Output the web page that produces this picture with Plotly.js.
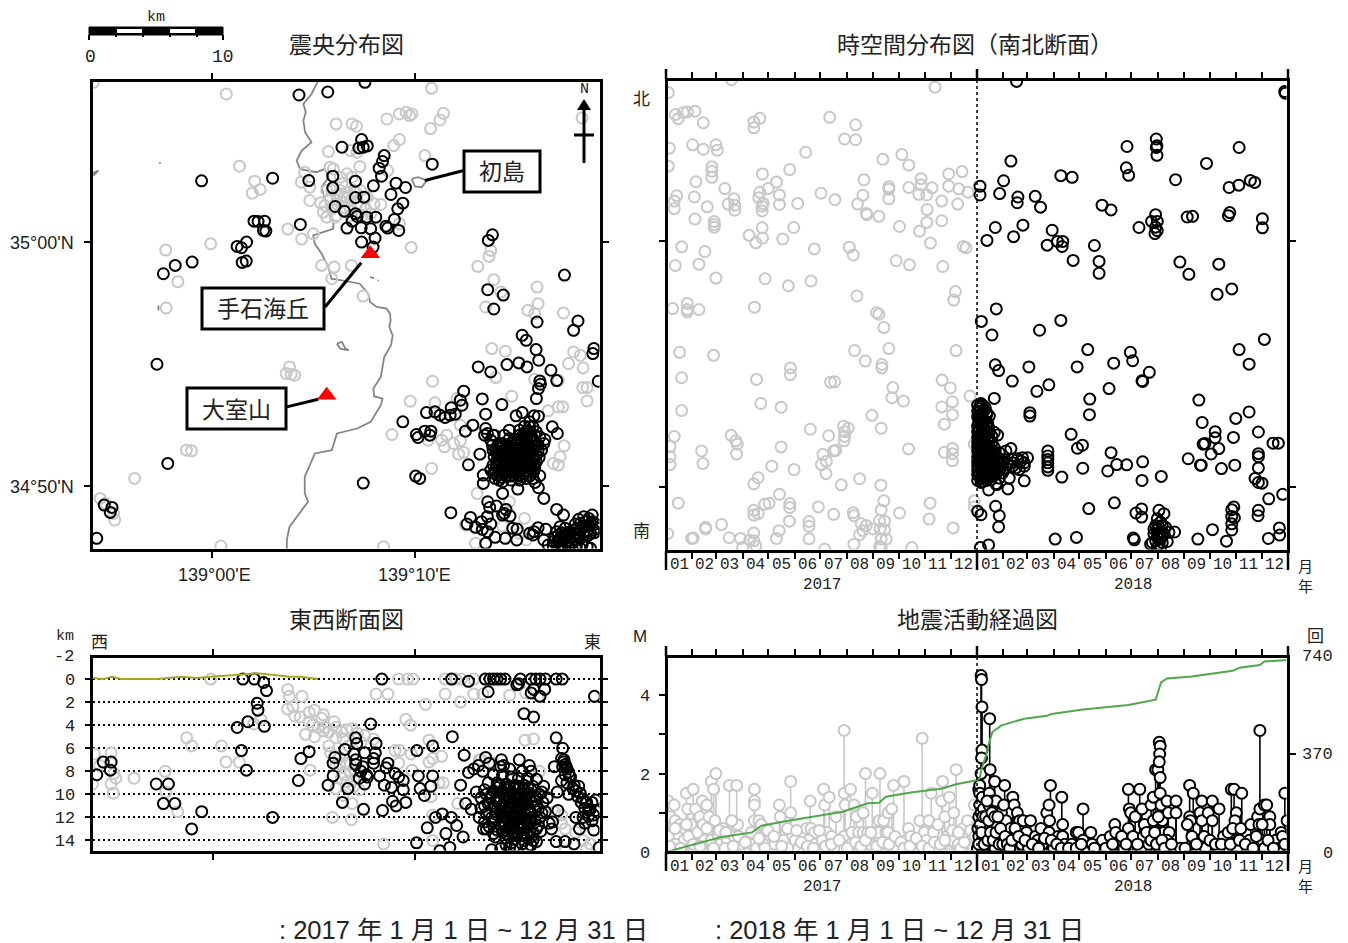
<!DOCTYPE html>
<html><head><meta charset="utf-8">
<script src="https://cdn.plot.ly/plotly-3.0.1.min.js"></script>
<style>html,body{margin:0;padding:0;background:#fff}</style></head><body>
<div id="c" style="width:1348px;height:943px"></div>
<script>
// Map readings (east grid, south grid): 139°00'E=392, 139°10'E=990, 35°00'N=725, 34°50'N=1458
const mapOld=[433,280,1040,263,758,370,805,370,818,377,908,355,945,340,965,335,982,340,975,345,1075,338,1065,358,1037,384,945,417,928,435,1020,465,735,453,820,455,800,450,472,497,517,542,533,567,510,578,655,545,680,560,665,515,740,500,750,505,828,498,910,510,805,530,775,550,770,570,790,575,780,590,760,585,800,600,680,600,712,607,725,615,720,635,745,625,760,645,800,625,830,620,870,610,890,612,860,640,755,650,945,670,615,686,690,700,656,716,387,730,254,749,980,741,715,795,752,800,803,795,745,835,290,844,838,887,255,923,1215,750,1210,768,1177,798,1224,838,1352,860,1245,875,1200,920,1355,910,1325,930,1345,940,1430,938,1485,352,1218,1045,1258,1053,1460,1055,1480,1065,1445,1090,1488,1103,1230,1132,1345,1137,1415,1140,1487,1162,1500,1162,1500,1202,1277,1188,1385,1232,1415,1220,1428,1220,1050,1208,977,1203,1043,1143,1115,1195,1125,1275,1085,1305,1070,1320,1078,1340,1105,1330,1125,1322,1135,1357,1120,1362,923,1303,1030,1320,1040,1405,1400,1390,1415,1395,1420,1370,1432,1337,1365,1352,1175,1480,1270,1505,1315,1555,1250,1578,1170,1630,898,1640,417,1638,620,1100,610,1120,635,1125,625,1122,315,1350,330,1352,162,1435,60,1495,100,1540,103,1560,75,1510,1320,1620,1300,1600,1140,1575,40,245,745,570,760,600,775,605,790,590,810,570,820,610,845,625,835,645,800,645,780,620,760,610,740,595,730,570,770,530,790,520,815,575,830,570,850,590,730,650];
const mapNew=[648,283,733,274,843,245,833,417,775,440,825,442,850,436,838,440,900,465,895,483,885,503,892,527,1042,491,360,541,570,533,677,540,748,527,748,562,815,542,868,556,935,548,963,561,920,582,815,591,840,590,955,608,940,625,755,618,782,632,815,640,820,648,805,662,848,650,875,650,930,657,790,683,832,682,860,685,905,677,910,683,943,690,873,713,833,725,867,740,515,662,527,663,546,662,550,692,543,690,652,672,1220,703,1208,720,493,725,465,738,478,742,492,782,480,786,332,785,282,795,247,820,1433,824,1206,868,1252,884,1224,926,1352,965,1473,962,1460,990,1308,1005,1320,1020,1349,1048,1520,1045,1517,1060,228,1092,1357,1080,1178,1100,1215,1115,1263,1093,1298,1088,1322,1100,1393,1110,1410,1141,1360,1142,1362,1152,1356,1165,1533,1143,1350,1195,1135,1173,1125,1200,1130,1215,1190,1196,1248,1213,1025,1237,1050,1235,1065,1245,1080,1252,1098,1223,1095,1245,1110,1242,1200,1242,1290,1247,1308,1237,1343,1247,1356,1248,955,1265,1162,1275,1140,1293,995,1303,1000,1312,1020,1293,1038,1293,1035,1305,1200,1285,1197,1305,1222,1305,1270,1290,1397,1280,1412,1300,1375,1318,1183,1362,1149,1394,260,1390,838,1449,993,1428,1005,1435,1193,1425,1193,1450,1360,1427,1346,1447,1356,1463,1295,1467,1250,1480,1372,1495,1206,1505,1232,1518,1212,1522,1260,1528,1255,1540,1250,1545,1272,1548,1097,1538,1410,1528,1430,1545,1155,1552,1145,1572,1170,1582,1188,1565,1205,1550,1215,1572,1190,1588,1205,1595,1280,1585,1293,1587,1228,1612,1258,1615,1292,1620,1200,1630,1343,1595,1340,1605,1355,1583,1378,1588,1372,1620,1330,1600,72,1515,95,1522,90,1537,50,1615,
1330,1265,1315,1278,1340,1280,1300,1290,1325,1292,1350,1295,1310,1305,1335,1308,1360,1310,1295,1318,1320,1320,1345,1322,1275,1330,1305,1332,1330,1335,1355,1335,1220,1335,1245,1340,1265,1345,1290,1345,1315,1348,1340,1350,1230,1350,1255,1355,1280,1358,1305,1360,1330,1362,1350,1365,1240,1368,1265,1370,1290,1372,1315,1375,1340,1378,1232,1382,1250,1385,1275,1385,1300,1388,1325,1390,1345,1392,1240,1398,1262,1400,1285,1402,1310,1404,1335,1406,1228,1410,1250,1412,1272,1414,1295,1416,1320,1418,1342,1415,1235,1425,1260,1428,1285,1428,1310,1430,1330,1428,1240,1440,1275,1440,1320,1435,1225,1420,1215,1320,1205,1300,1225,1305,1255,1305,1245,1375,1258,1392,1280,1375,1295,1395,1270,1360,1300,1375,1320,1362,1320,1400,1300,1345,1285,1420,1255,1420,1245,1405,1335,1345,1320,1333,1270,1385,1285,1388,1310,1390,1265,1405,1278,1395,1290,1380,1305,1410,1278,1350,1252,1368,1340,1365,1328,1375,1240,1355,1262,1358,1315,1385,1300,1400,1265,1415,
1240,1345,1255,1347,1235,1360,1248,1362,1262,1378,1275,1372,1290,1360,1298,1352,1310,1340,1325,1328,1338,1318,1318,1310,1305,1318,1328,1300,1345,1338,1355,1350,1358,1372,1350,1385,1335,1395,1345,1405,1330,1415,1310,1420,1298,1428,1272,1428,1248,1432,1232,1395,1240,1385,1255,1400,1270,1392,1280,1410,1295,1405,1312,1365,1325,1352,1305,1378,1295,1365,1285,1345,1265,1335,1250,1330,1235,1338,1222,1350,1225,1370,1222,1395,1215,1410,1228,1435,1250,1445,1300,1440,1340,1435,1365,1350,1372,1330,1290,1330,1300,1305,1318,1295,1330,1280,1345,1305,1270,1315,1285,1320,
1420,1580,1435,1585,1410,1595,1425,1598,1440,1600,1450,1595,1405,1612,1420,1615,1435,1615,1450,1612,1465,1600,1410,1628,1425,1632,1440,1630,1400,1640,1455,1628,1470,1620,1485,1635,1500,1640,1515,1545,1490,1550,1505,1555,1475,1558,1495,1565,1515,1565,1465,1572,1485,1578,1505,1578,1525,1572,1480,1592,1500,1592,1522,1598,1470,1600,1490,1605,1510,1600,1415,1605,1430,1608,1445,1605,1415,1622,1430,1622,1445,1622,1460,1612,1425,1640,1445,1640,1470,1585,1480,1570,1495,1580,1510,1570,1490,1595,1505,1605,1475,1610,1460,1590,1400,1625,1385,1635,1520,1590,1530,1585,1465,1640,1480,1645,1510,1645];
const coast=[[705,240,685,280,661,310,668,335,661,360,666,395,685,425,656,450,641,480,651,505,675,510,700,515,725,505,735,530,715,560,725,600,740,640,750,670,749,685,720,695,690,705,695,730,715,760,735,800,744,835,774,840,828,850,853,880,858,905,878,920,907,925,917,940,919,960,915,980,925,1005,920,1035,900,1070,890,1130,868,1165,870,1188,895,1195,890,1215,860,1265,820,1285,760,1300,745,1350,695,1360,680,1395,665,1430,665,1480,675,1505,660,1525,620,1580,612,1620,612,1650],[33,520,55,510,40,525],[760,1030,775,1025,785,1045,795,1050,770,1045,760,1030],[981,535,1001,530,1025,540,1011,560,991,558,981,535],[858,830,870,833],[880,840,884,841],[236,485,238,490],[232,915,233,930]];
const triangleGrid=[859,760,730,1185];
const topoX=[116,150,175,200,260,300,370,410,450,500,580,640,670,700,750];
const topoY=[-0.1,0,-0.2,0,0,0,-0.2,-0.1,-0.2,-0.3,-0.5,-0.3,-0.2,-0.2,0];
// Depth section (east grid, depth km)
const depthOld=[450,0,665,0.9,670,1.5,705,1.5,665,2.6,680,2.4,685,3.2,700,3.3,725,2.9,740,2.7,765,3.1,760,3.4,725,3.7,735,4,715,4.8,740,5,765,4.5,770,4.2,795,3.7,800,4.2,830,4.4,800,5.1,860,4.7,880,4.9,905,5.2,780,5.8,785,6.4,810,6.8,830,7.3,840,8,825,8.3,855,8,800,7.5,850,8.7,865,9.6,800,9.5,820,10.1,845,10.8,790,12,843,12.2,383,5.1,397,5.8,480,5.8,493,7.2,530,7.2,570,3.9,590,3.5,236,8.6,323,8,325,9.8,358,11.5,125,6.5,172,6.4,140,7.5,120,9.1,172,9.1,178,9.9,185,8.6,180,8.2,728,7.9,912,1.3,945,1.3,1050,2.2,995,3.5,1008,4,965,6.2,978,6.2,975,7.3,1010,6.5,1012,7.9,1060,5.3,1095,6.7,1060,7.2,1070,6.9,1100,9,1088,9,1065,10.2,1140,10.8,1070,11.8,933,14.3,1070,14,975,0,1000,0,1015,0,1105,0,1135,0,1150,0,1185,0,1105,1.3,1148,2,1185,1.3,1210,1.3,1285,1.4,1330,1.2,1365,1.5,1328,5.3,1352,5.2,1205,7,1240,7.3,1200,7,1368,8,1430,12.5,1440,13,1470,13.3,1490,14,1510,14.3,1500,14.7,1440,14.9,1430,11.8,1410,11.5,750,4.2,780,4.6,815,4.6,845,4.3,870,5.5,820,5.2,835,5.8,810,7.3,840,7.4,815,8.6,830,8.9,850,9.3];
const depthNew=[540,0,572,0,598,0.3,606,1,580,2.1,582,2.7,554,3.7,524,4.2,600,4.1,536,6.2,550,7.9,702,6.9,725,6.3,695,8.8,132,8.3,150,7.2,172,7.2,170,7.9,298,9.1,332,9.1,318,10.8,350,10.8,425,11.5,397,13,623,12,928,0,1123,0,1170,0.2,1217,0,1230,0,1240,0,1250,0,1260,0,1272,0,1225,1.1,1310,0.4,1305,0.5,1315,0,1345,0,1358,0,1370,0,1385,0,1415,0,1432,0,1345,1.2,1352,0.9,1370,1.5,1383,0.9,1522,1.5,1325,3,1352,3.3,1125,5,1415,5.1,1433,6,1070,5.8,1026,6.2,897,3.9,855,5.1,858,5.6,912,5.6,825,6.1,797,6.8,792,7.3,850,6.5,855,7,855,7.4,880,6.4,910,6.4,905,6.9,905,7.3,945,7.3,940,7.7,875,7.6,870,8,885,8.3,865,8.6,888,8.5,880,9.1,792,8.4,778,9.2,833,9.5,818,10.7,877,11.3,922,8.4,935,9.2,955,9.4,965,8.2,975,8.5,988,8.8,988,9.6,958,10.6,968,11,995,10.7,930,11.4,1030,8.4,1035,9.5,1047,10.1,1065,9.3,1070,8.4,1097,11.7,1078,12,1122,12,1137,12.7,1055,12.9,1107,13.4,1155,13.7,1025,14.2,1118,14.6,1090,14.9,1158,6.6,1148,9.2,1170,8.1,1185,7.8,1192,9.8,1162,10.8,1178,11.3,1198,7.5,1210,8,1218,6.8,1228,7.3,1312,7,1262,7,1268,7.5,1340,7.5,
1260,7.6,1285,7.8,1320,8,1345,8,1240,8.3,1265,8.3,1290,8.5,1310,8.6,1335,8.6,1360,8.7,1225,9,1250,9,1275,9.1,1300,9.2,1325,9.2,1350,9.3,1380,9.3,1215,9.6,1240,9.7,1265,9.7,1290,9.8,1315,9.9,1340,9.9,1368,10,1205,10.3,1230,10.3,1255,10.4,1280,10.4,1305,10.5,1330,10.6,1355,10.6,1378,10.7,1215,11,1240,11,1265,11.1,1290,11.1,1315,11.2,1340,11.3,1365,11.3,1385,11.5,1220,11.7,1245,11.7,1270,11.8,1295,11.8,1320,11.9,1345,12,1370,12,1215,12.4,1240,12.4,1265,12.5,1290,12.5,1315,12.6,1340,12.6,1365,12.7,1405,12.4,1402,13,1220,13,1250,13.1,1275,13.1,1300,13.2,1325,13.3,1350,13.3,1245,13.7,1275,13.8,1300,13.9,1325,14,1350,14,1290,14.2,1320,14.3,1345,14.4,1235,14.8,1260,14.7,1285,14.6,1275,9.6,1300,10,1320,10.5,1290,10.8,1305,11.5,1280,11.5,1295,12.2,1310,12,1325,11,1300,11,1270,10.7,1335,10,1310,9.5,1285,10.2,1315,12.9,1290,13,1330,12.3,1305,13.6,1260,11.5,1345,11.6,
1258,9.2,1272,9.4,1284,9.3,1297,9.5,1311,9.3,1323,9.6,1336,9.4,1262,9.9,1276,10.1,1288,9.9,1302,10.2,1314,10,1327,10.2,1340,10.3,1255,10.7,1268,10.9,1283,10.6,1296,10.8,1309,10.9,1322,10.7,1335,10.9,1260,11.2,1274,11.4,1287,11.3,1300,11.5,1313,11.4,1326,11.6,1339,11.5,1263,11.9,1277,12.1,1290,11.9,1303,12.2,1316,12.1,1329,12.2,1343,12.3,1258,12.6,1272,12.8,1285,12.7,1298,12.9,1311,12.7,1324,12.9,1337,12.8,1265,13.3,1280,13.5,1293,13.4,1306,13.3,1319,13.6,1333,13.5,1346,13.7,1235,10,1225,10.8,1235,12,1228,12.8,1245,12.2,1248,10.6,1250,9.4,1345,9.6,1358,10.2,1362,11,1355,12.2,1360,13,1375,11.6,1240,13.4,1300,14.5,1335,14.6,1360,14.1,1275,14.4,1220,10,1205,11.2,1200,12,1212,13,1375,9.8,1390,10.3,1395,12.5,1372,13.2,
1430,6.9,1435,7.2,1440,7.4,1433,7.6,1445,7.8,1450,8.1,1440,8.3,1455,8.5,1430,8.8,1445,9,1465,9.2,1478,9.3,1470,9.7,1482,9.9,1475,10.2,1490,10.4,1500,10.7,1515,10.7,1525,10.5,1495,11.2,1510,11.3,1525,11.4,1470,12,1490,12,1505,11.9,1520,11.8,1495,12.5,1480,13,1520,13.1,1415,14.1,1440,14.1,1465,14.3,1535,14.6,1410,7.6,1418,9.8,1450,10,1420,11.4,1437,7,1443,7.6,1452,8.4,1462,9.5,1485,10.7,1505,11.4,1515,12.3];
// Time-space section (time reading, north-south reading); 2018 times are relative to their own reading origin
const tsOld=[115,68,136,133,145,145,160,127,172,125,195,123,220,157,372,155,372,172,390,144,600,141,678,163,645,205,678,207,917,52,305,30,118,232,188,222,220,235,258,222,262,238,528,244,115,285,246,287,246,300,246,318,760,265,817,251,838,282,398,308,480,295,440,332,198,331,285,351,140,372,133,388,133,410,193,376,232,405,195,441,253,448,253,457,253,465,312,381,295,397,315,400,315,415,390,362,387,378,415,351,400,395,397,403,397,417,449,370,449,398,504,395,574,365,616,384,703,325,700,371,684,397,710,425,712,428,748,433,778,346,778,353,778,381,838,348,875,322,875,340,868,368,892,370,908,349,893,413,892,451,937,388,937,446,958,308,958,344,998,301,988,352,985,397,1016,362,810,463,870,477,903,512,397,467,358,489,378,511,398,497,492,466,459,500,155,523,225,537,136,578,207,574,258,615,406,617,554,529,659,524,671,547,800,564,840,576,940,581,1002,522,1010,526,476,638,544,624,682,668,978,655,973,680,128,705,172,690,172,708,172,715,207,708,374,701,741,717,748,722,763,761,149,834,251,843,675,829,707,860,778,823,980,829,482,880,482,900,757,870,757,880,155,909,380,914,603,922,615,921,938,916,963,939,790,938,787,968,822,978,1022,963,969,980,937,995,393,985,454,996,155,1006,727,1020,969,1018,945,1046,755,1058,542,1061,642,1052,656,1058,645,1068,645,1082,643,1095,133,1082,120,1112,304,1079,318,1095,322,1105,320,1134,597,1080,454,1113,215,1125,219,1162,120,1142,120,1165,580,1135,612,1125,618,1123,837,1119,945,1129,969,1118,969,1133,969,1154,1035,1105,426,1170,575,1165,590,1155,589,1192,493,1180,385,1204,372,1222,635,1225,690,1207,754,1226,449,1253,145,1279,405,1282,418,1279,480,1280,480,1292,372,1300,372,1314,385,1310,566,1290,612,1312,671,1307,673,1316,763,1272,755,1299,810,1308,902,1279,899,1326,1035,1272,1035,1290,479,1332,448,1360,538,1333,538,1347,695,1340,710,1345,700,1360,690,1372,730,1355,750,1330,765,1332,752,1355,765,1358,971,1352,275,1342,227,1350,227,1355,185,1383,190,1382,113,1369,298,1381,332,1383,372,1367,360,1388,372,1390,378,1405,338,1410,440,1383,538,1384,673,1400,585,1415,755,1385,770,1385,750,1407,755,1410,847,1410];
const tsNew=[142,35,948,65,950,70,562,205,564,225,562,230,564,253,474,227,811,230,125,270,713,277,472,290,479,312,275,313,309,318,103,328,620,325,845,327,858,333,781,348,810,341,32,344,32,370,91,366,146,376,144,393,198,374,214,406,399,400,426,414,560,428,548,448,565,448,560,465,565,475,558,484,510,466,783,422,779,431,655,435,671,433,881,440,881,467,78,466,133,493,161,459,53,504,249,474,265,507,281,507,279,522,234,518,376,519,312,563,390,566,390,601,633,568,660,604,750,574,789,647,745,663,81,706,36,743,68,783,211,769,275,740,78,871,88,888,129,919,179,877,324,877,356,826,434,866,484,834,491,859,541,893,519,918,521,920,420,941,811,826,841,869,887,796,203,949,239,930,75,970,362,972,361,1018,182,1012,182,1022,690,975,841,1010,801,1029,700,1041,739,1068,739,1086,794,1085,869,1069,306,1076,325,1117,340,1108,703,1105,708,1103,750,1118,727,1134,913,1102,929,1102,426,1130,521,1157,443,1165,473,1166,416,1184,341,1176,278,1202,519,1212,577,1200,658,1148,695,1167,697,1167,758,1177,798,1167,869,1133,869,1142,869,1175,859,1206,869,1218,880,1220,236,1125,236,1140,236,1150,236,1160,236,1172,236,1182,900,1266,942,1253,79,1288,90,1316,88,1349,25,1303,35,1313,58,1240,82,1224,116,1237,359,1295,436,1278,518,1296,501,1308,518,1320,795,1290,789,1298,789,1318,797,1322,789,1340,789,1358,869,1300,868,1316,731,1357,258,1385,322,1380,687,1385,773,1391,899,1383,932,1352,933,1373,493,1382,496,1387,33,1410,58,1402,617,1364,
570,1300,585,1310,565,1325,575,1335,560,1345,580,1345,590,1350,565,1355,575,1365,555,1370,585,1370,600,1365,565,1380,575,1385,550,1395,595,1392,570,1400,545,1400,565,1410,575,1415,580,1395,560,1390,570,1350,555,1355,580,1375,565,1368,
35,985,40,990,30,1000,45,1005,35,1015,60,1022,30,1030,45,1035,35,1045,50,1050,30,1060,40,1065,60,1070,75,1070,85,1078,30,1080,45,1085,35,1095,55,1095,28,1105,42,1110,60,1110,35,1120,50,1125,70,1125,30,1135,42,1138,58,1140,75,1135,90,1130,110,1125,125,1118,32,1150,45,1150,62,1152,80,1150,105,1150,130,1150,145,1148,160,1145,175,1145,30,1160,42,1165,58,1165,75,1165,95,1165,130,1160,155,1155,165,1160,35,1175,50,1175,68,1178,85,1178,105,1180,130,1170,150,1180,165,1170,30,1190,45,1190,60,1190,80,1192,100,1190,120,1205,35,1205,50,1205,65,1210,35,1218,80,1222,165,1213,28,1020,38,1028,52,1018,28,1042,42,1052,28,1070,52,1068,28,1090,48,1100,28,1118,42,1125,28,1148,52,1135,65,1130,52,1158,38,1158,65,1160,28,1175,42,1180,58,1178,28,1198,42,1198,55,1198,72,1185,90,1155,115,1165,140,1175,
25,990,32,992,48,998,25,1008,40,1010,52,1012,25,1025,38,1040,55,1042,25,1052,44,1058,58,1055,25,1068,36,1075,50,1078,68,1082,25,1085,40,1090,58,1085,25,1100,36,1104,50,1108,68,1100,25,1112,38,1115,55,1118,75,1115,25,1126,36,1130,48,1132,62,1130,25,1142,38,1145,55,1148,72,1145,85,1145,25,1156,36,1155,50,1162,68,1158,85,1158,100,1158,25,1168,35,1168,48,1168,62,1172,78,1172,95,1175,25,1182,38,1185,52,1185,70,1192,90,1182,25,1195,38,1200,52,1212,70,1200,90,1205,25,1212,42,1215];
// Magnitude-time (time reading, M)
const mtOld=[85,1.3,98,1.2,90,0.9,100,0.8,110,0.7,125,1.5,128,1.1,140,1.6,145,1.1,115,0.6,135,0.7,95,0.5,105,0.4,120,0.3,85,0.4,100,0.2,130,0.4,150,0.5,155,0.9,160,1.3,170,1.2,162,0.7,175,0.9,180,1.8,185,1.6,190,2,188,0.8,172,0.5,150,0.2,165,0.3,180,0.3,195,0.4,205,0.6,200,0.2,220,1.7,236,1.7,238,0.7,225,0.8,215,0.3,230,0.4,245,0.2,210,0.1,265,0.3,275,1.6,275,1.3,275,1.2,275,0.8,285,0.8,290,0.7,270,0.2,300,0.5,310,0.3,280,0.1,295,0.2,320,0.2,330,1.2,332,0.9,355,1.8,355,1,345,0.5,340,0.3,350,0.1,360,0.4,365,0.3,372,0.1,398,1.3,390,0.6,400,0.6,408,0.5,395,0.3,385,0,410,0.2,428,1.6,430,1.2,440,1.4,435,0.5,425,0.3,445,0.4,455,0.9,450,0.1,473,3.1,473,1.5,475,1.2,472,0.4,487,1.6,495,1.2,500,0.9,490,0.5,505,0.5,515,1,520,2,515,0.5,525,0.5,535,1.5,540,0.5,530,0.2,552,2,550,0.8,548,0.5,560,0.8,565,0.5,570,1,578,1.1,582,1.7,570,0.5,590,0.1,605,1.8,615,0.6,610,0.3,625,0.1,620,0.4,640,0.8,645,2.9,650,0.5,660,0.8,665,1.5,655,0.3,670,0.5,680,0.7,690,1.8,688,1.3,695,0.9,705,1.4,715,1,720,2.1,700,0.4,710,0.3,725,0.2,735,0.6,745,0.8,730,0.1,750,0.2,760,1.2,758,0.1,88,0.15,100,0.6,112,0.1,125,0.7,140,0.2,155,0.15,170,0.6,185,0.1,198,0.55,212,0.5,228,0.15,240,0.4,255,0.25,268,0.5,285,0.35,298,0.1,305,0.55,318,0.4,335,0.15,348,0.6,368,0.55,378,0.25,392,0.15,405,0.1,418,0.55,432,0.15,445,0.2,462,0.3,480,0.1,498,0.25,510,0.15,520,0.3,532,0.5,545,0.15,558,0.25,572,0.2,585,0.4,598,0.25,605,0.1,618,0.15,632,0.35,645,0.15,660,0.1,672,0.25,685,0.2,695,0.3,712,0.55,725,0.5,738,0.25,752,0.55,762,0.4];
const mtNew=[767,0.1,770,1.6,772,1.7,775,4.5,776,4.4,777,3.7,777,2.6,776,2.4,775,2,772,1.5,772,1.2,770,0.9,768,0.6,770,0.4,775,1,778,1.4,780,1.1,782,0.8,785,0.5,780,0.3,775,0.2,794,3.4,795,2.1,793,1.5,792,1.2,795,0.9,790,0.6,800,1.3,805,1.8,808,1.3,810,1,803,0.7,812,0.4,797,0.2,806,0.1,820,1,825,1.2,827,1.7,830,0.8,835,0.4,822,0.5,840,0.6,845,1.4,848,1.2,855,1,860,0.8,850,0.3,865,0.2,875,0.5,868,0.8,884,0.8,880,0.1,895,0.4,900,0.3,907,0.6,910,0.2,920,1,925,1.2,928,1.7,926,0.8,925,0.5,935,0.1,945,0.4,953,1.4,955,0.7,955,0.4,960,0.2,975,0.2,985,0.5,990,0.5,1000,1.1,1000,0.3,1010,0.1,1017,0.5,1020,0.2,1035,0.1,1043,0.3,1060,0.4,1070,0.7,1072,0.5,1077,0.2,1090,0.1,1100,1.6,1102,1.1,1105,1,1100,0.6,1110,0.4,1115,0.9,1125,1.6,1130,1.1,1135,0.7,1133,0.4,1128,0.1,1145,0.2,1150,1.2,1155,1.4,1155,0.8,1160,2.1,1165,2.1,1168,2.8,1170,2.7,1169,2.5,1168,2.3,1170,1.9,1170,1.5,1172,1.2,1175,0.8,1178,0.5,1170,0.1,1185,1.3,1188,1,1190,0.5,1185,0.3,1205,1.3,1205,1,1215,0.1,1235,1.7,1243,1.5,1235,0.9,1237,0.8,1230,0.7,1262,1.3,1258,1,1262,0.8,1267,0.4,1270,0.1,1276,1,1285,1.3,1285,0.8,1300,1.1,1300,0.1,1310,0.4,1320,0.5,1327,1.6,1333,1.6,1338,1,1335,0.8,1330,0.6,1350,1.5,1348,0.6,1335,0.2,1340,0.1,1370,0.7,1367,0.3,1385,0.9,1390,1.1,1390,3.1,1388,0.7,1400,1.2,1405,1.2,1412,0.9,1412,0.7,1395,0.3,1400,0.1,1425,0.3,1437,0.5,1440,0.4,1445,1.5,1450,0.8,1432,0.1,770,0.2,773,0.7,776,0.5,779,0.9,782,0.2,785,0.9,788,1.3,790,0.3,792,0.8,796,0.5,799,1,802,0.3,805,0.9,808,0.5,812,0.9,815,0.2,818,0.6,823,0.2,828,0.4,833,0.2,838,0.1,843,0.3,850,0.6,858,0.4,872,0.3,888,0.2,902,0.1,915,0.35,930,0.3,942,0.2,952,0.1,968,0.1,985,0.1,996,0.2,1025,0.1,1050,0.1,1065,0.2,1085,0.4,1095,0.2,1120,0.2,1140,0.5,1150,0.3,1158,0.5,1162,0.2,1166,0.9,1174,0.3,1180,0.1,1195,0.2,1225,0.1,1240,0.4,1250,0.2,1280,0.3,1292,0.2,1305,0.2,1325,0.2,1345,0.3,1358,0.2,1375,0.1,1382,0.4,1395,0.7,1408,0.3,1420,0.1,1445,0.2];
const cumX=[80,140,200,270,290,340,395,470,525,550,565,620,690,720,765,772,775,785,792,800,820,870,920,930,1000,1100,1160,1167,1172,1185,1240,1330,1345,1390,1400,1452];
const cumN=[0,27,56,74,99,115,131,152,184,186,209,225,240,256,271,278,309,359,409,453,478,503,514,521,538,555,575,609,640,655,663,684,696,706,719,725];
const monthDays=[0,31,59,90,120,151,181,212,243,273,304,334,365];
const monthLabels=['01','02','03','04','05','06','07','08','09','10','11','12'];
const years=['2017','2018'];

const W=1348,H=943;
const px=x=>x/W, py=y=>1-y/H;
const xs=a=>a.filter((v,i)=>i%2==0), ys=a=>a.filter((v,i)=>i%2==1);
const gray='#c8c8c8';
const mono='"Liberation Mono","DejaVu Sans Mono",monospace';
const cjk='"Noto Sans CJK JP","Liberation Sans",sans-serif';
const sans='"Liberation Sans",Arial,sans-serif';
const txt='#222';
const ring=(c,s=11,w=2)=>({symbol:'circle-open',size:s,color:c,line:{color:c,width:w}});
const pts=(a,c,x,y,off=0)=>({type:'scatter',mode:'markers',xaxis:x,yaxis:y,x:xs(a).map(v=>v+off),y:ys(a),marker:ring(c),hoverinfo:'skip'});
const stems=(a,c)=>({type:'scatter',mode:'markers',xaxis:'x4',yaxis:'y4',x:xs(a),y:ys(a),
  marker:{symbol:'circle',size:11,color:'#fff',line:{color:c,width:2}},
  error_y:{type:'data',symmetric:false,array:ys(a).map(()=>0),arrayminus:ys(a),color:c,thickness:1.6,width:0},hoverinfo:'skip'});
const coastTraces=coast.map(c=>({type:'scatter',mode:'lines',xaxis:'x',yaxis:'y',x:xs(c),y:ys(c),line:{color:'#858585',width:1.8},hoverinfo:'skip'}));

const traces=[...coastTraces,
 pts(mapOld,gray,'x','y'),pts(mapNew,'#000','x','y'),
 {type:'scatter',mode:'markers',xaxis:'x',yaxis:'y',x:xs(triangleGrid),y:ys(triangleGrid),marker:{symbol:'triangle-up',size:17,color:'#f00',line:{width:0}},hoverinfo:'skip'},
 pts(tsOld,gray,'x2','y2'),pts(tsNew,'#000','x2','y2',1020),
 pts(depthOld,gray,'x3','y3'),pts(depthNew,'#000','x3','y3'),
 {type:'scatter',mode:'lines',xaxis:'x3',yaxis:'y3',x:topoX,y:topoY,line:{color:'#a8a820',width:2},hoverinfo:'skip'},
 stems(mtOld,gray),stems(mtNew,'#000'),
 {type:'scatter',mode:'lines',xaxis:'x4',yaxis:'y5',x:cumX,y:cumN,line:{color:'#4fa84a',width:2},hoverinfo:'skip'}
];

// month edges on each time reading scale
const ts0=108,tsYear=935,mt0=80,mtYear=686;
const edges=(o,yr)=>[0,1].flatMap(k=>monthDays.slice(0,12).map(d=>o+k*yr+yr*d/365));
const mids=(o,yr)=>[0,1].flatMap(k=>monthDays.slice(0,12).map((d,i)=>o+k*yr+yr*(d+monthDays[i+1])/730));

const frame={showline:true,linecolor:'#000',linewidth:3,mirror:'ticks',zeroline:false,showgrid:false,ticks:'outside',ticklen:6,tickwidth:2,tickcolor:'#000',fixedrange:true};
const layout={width:W,height:H,margin:{l:0,r:0,t:0,b:0},paper_bgcolor:'#fff',plot_bgcolor:'#fff',showlegend:false,
 xaxis:{...frame,domain:[px(92.5),px(599.5)],range:[37.4,1536.6],tickvals:[392,990],showticklabels:false,anchor:'y'},
 yaxis:{...frame,domain:[py(548.5),py(81.5)],range:[1645.5,242.5],tickvals:[725,1458],showticklabels:false,anchor:'x'},
 xaxis2:{...frame,domain:[px(667.5),px(1286.5)],range:[ts0+4.5,ts0+2*tsYear-4.5],tickvals:edges(ts0,tsYear),showticklabels:false,anchor:'y2'},
 yaxis2:{...frame,domain:[py(549.5),py(80.5)],range:[1415.6,32.4],tickvals:[507,1232],showticklabels:false,anchor:'x2'},
 xaxis3:{...frame,domain:[px(92.5),px(599.5)],range:[120,1536],tickvals:[456,1020],showticklabels:false,anchor:'y3'},
 yaxis3:{...frame,domain:[py(850.5),py(657.5)],range:[14.87,-1.87],tickvals:[0,2,4,6,8,10,12,14],ticktext:['0','2','4','6','8','10','12','14'],showgrid:true,gridcolor:'#000',gridwidth:2,griddash:'2px,3px',tickfont:{family:mono,size:17,color:txt},anchor:'x3',ticklen:5,ticklabelstandoff:6},
 xaxis4:{...frame,domain:[px(667.5),px(1286.5)],range:[mt0+3.3,mt0+2*mtYear-3.3],tickvals:edges(mt0,mtYear),showticklabels:false,anchor:'y4'},
 yaxis4:{...frame,mirror:false,domain:[py(850.5),py(657.5)],range:[0.04,4.96],tickvals:[1,2,3,4],ticktext:['','2','','4'],tickfont:{family:mono,size:17,color:txt},anchor:'x4',ticklabelstandoff:5},
 yaxis5:{...frame,mirror:false,overlaying:'y4',side:'right',anchor:'x4',domain:[py(850.5),py(657.5)],range:[5.7,734.3],tickvals:[370],showticklabels:false},
 shapes:[],annotations:[]};

const S=layout.shapes,A=layout.annotations;
const seg=(x0,y0,x1,y1,c='#000',w=2,dash)=>S.push({type:'line',xref:'paper',yref:'paper',x0:px(x0),y0:py(y0),x1:px(x1),y1:py(y1),line:{color:c,width:w,dash:dash||'solid'}});
const box=(x0,y0,x1,y1,fill,lc='#000',w=3)=>S.push({type:'rect',xref:'paper',yref:'paper',x0:px(x0),y0:py(y0),x1:px(x1),y1:py(y1),fillcolor:fill,line:{color:lc,width:w}});
const label=(x,y,t,f,s,anchor='center',c=txt)=>A.push({xref:'paper',yref:'paper',x:px(x),y:py(y),text:t,showarrow:false,xanchor:anchor,yanchor:'middle',font:{family:f,size:s,color:c},borderpad:0});
const gline=(x0,y0,x1,y1,w=3)=>S.push({type:'line',xref:'x',yref:'y',x0,y0,x1,y1,line:{color:'#000',width:w}});

// titles
label(346,43,'震央分布図',cjk,23);
label(975,43,'時空間分布図（南北断面）',cjk,23);
label(346,618,'東西断面図',cjk,23);
label(977,618,'地震活動経過図',cjk,23);
// scale bar
box(89,27,223,35,'#000','#000',1);box(117,29,142,33,'#fff','#fff',0);box(170,29,195,33,'#fff','#fff',0);
[89,116,143,170,197,223].forEach((x,i)=>seg(x,35,x,i%5?37:40,'#000',2));
label(156,17,'km',mono,15);label(90,57,'0',mono,18);label(223,57,'10',mono,18);
// map labels
label(42,243,"35°00'N",sans,18);label(42,487,"34°50'N",sans,18);
label(214,575,"139°00'E",sans,18);label(414,575,"139°10'E",sans,18);
// north arrow
seg(584,108,584,163,'#000',3);seg(574,135,594,135,'#000',3);
S.push({type:'path',xref:'paper',yref:'paper',path:`M ${px(577)},${py(110)} L ${px(584)},${py(99)} L ${px(591)},${py(110)} Z`,fillcolor:'#000',line:{width:0}});
label(584,89,'N',mono,15);
// leader lines and place labels
gline(1020,540,1135,510);gline(832,787,725,920);gline(612,1220,705,1197);
box(464,151,540,192,'#fff');label(502,170,'初島',cjk,23);
box(202,288,324,329,'#fff');label(263,307,'手石海丘',cjk,23);
box(187,388,286,429,'#fff');label(236,408,'大室山',cjk,23);
// time panels
[[ts0,tsYear,'x2',551,79,565,585,575],[mt0,mtYear,'x4',852,656,867,887,875]].forEach(([o,yr,xr,b,t,ly,yy,ny])=>{
  mids(o,yr).forEach((m,i)=>A.push({xref:xr,yref:'paper',x:m,y:py(ly),text:monthLabels[i%12],showarrow:false,yanchor:'middle',font:{family:mono,size:16,color:txt}}));
  years.forEach((yl,k)=>A.push({xref:xr,yref:'paper',x:o+k*yr+yr/2,y:py(yy),text:yl,showarrow:false,yanchor:'middle',font:{family:mono,size:16,color:txt}}));
  label(1305,ny,'月<br>年',cjk,15);
  [0,1,2].forEach(k=>{const xx=666+311*k;seg(xx,b,xx,b+19,'#000',2.5);seg(xx,t-10,xx,t,'#000',2.5);});
  S.push({type:'line',xref:xr,yref:'paper',x0:o+yr,x1:o+yr,y0:py(b),y1:py(t),line:{color:'#000',width:1.5,dash:'dot'}});
});
label(641,97,'北',cjk,17);label(641,529,'南',cjk,17);
label(65,636,'km',mono,15);label(100,640,'西',cjk,17);label(592,640,'東',cjk,17);
label(75,656,'-2',mono,17,'right');
label(640,636,'M',sans,17);label(1315,634,'回',cjk,17);
label(1334,656,'740',mono,17,'right');label(1334,754,'370',mono,17,'right');label(1334,853,'0',mono,17,'right');
label(651,853,'0',mono,17,'right');
// period note
label(278,930,': 2017 年 1 月 1 日 ~ 12 月 31 日',sans+',"Noto Sans CJK JP"',25.5,'left');
label(714,930,': 2018 年 1 月 1 日 ~ 12 月 31 日',sans+',"Noto Sans CJK JP"',25.5,'left');

Plotly.newPlot('c',traces,layout,{staticPlot:true,displayModeBar:false});
</script></body></html>
